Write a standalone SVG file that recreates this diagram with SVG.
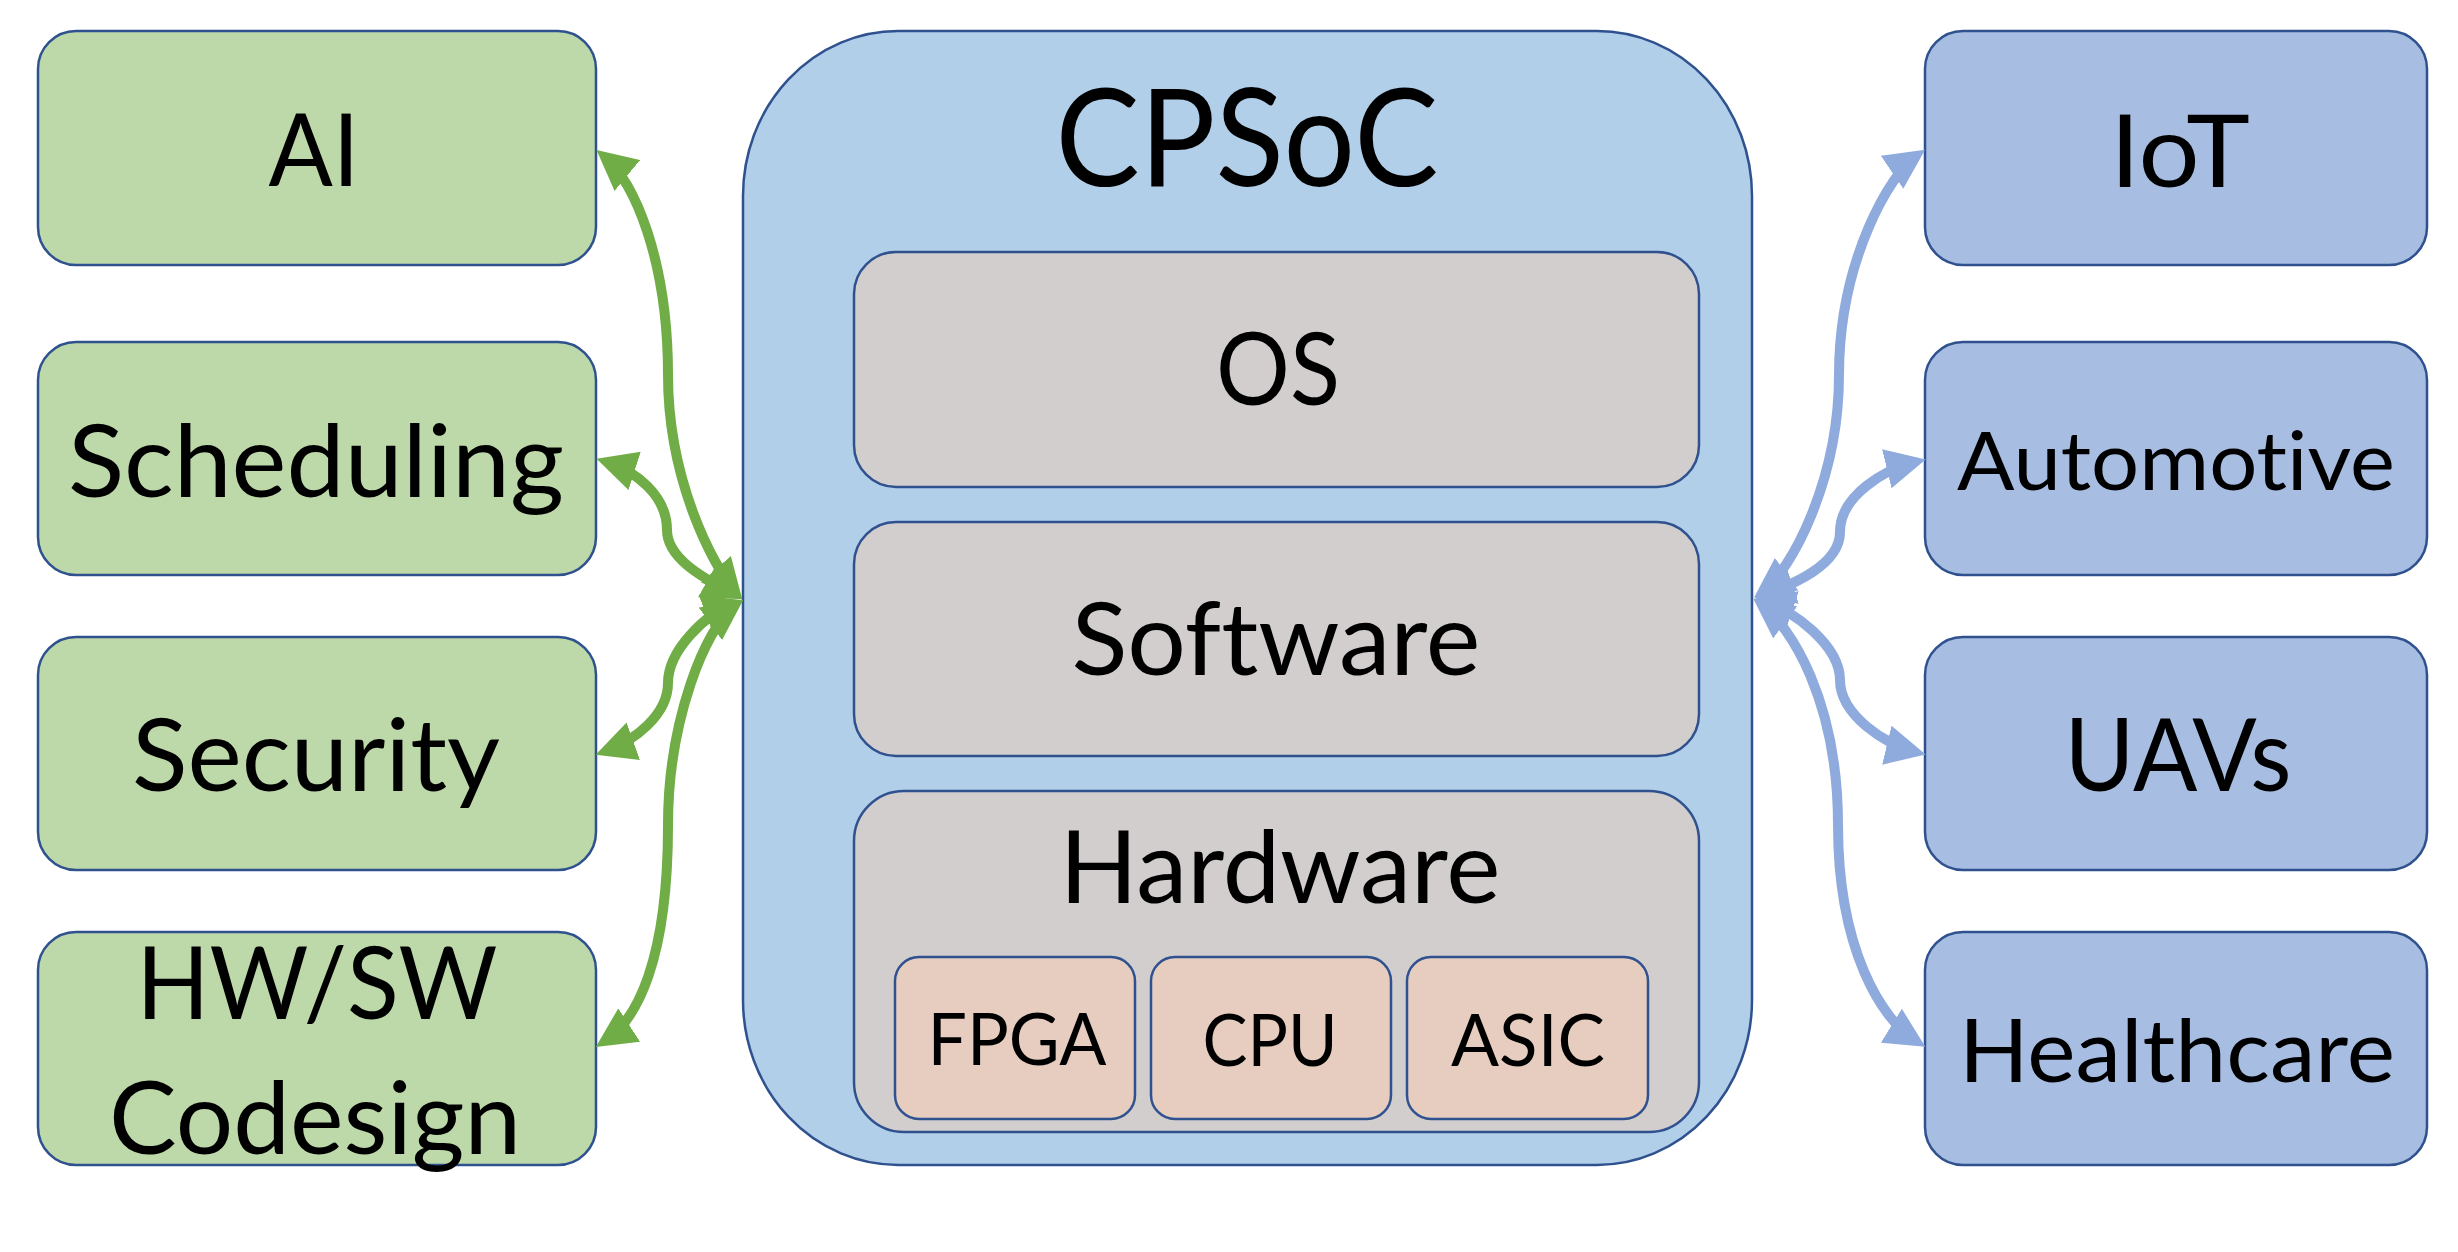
<svg xmlns="http://www.w3.org/2000/svg" width="2458" height="1252" viewBox="0 0 2458 1252">
  <style>
    .box { stroke: #2F528F; stroke-width: 2.5; }
    .green { fill: #BDD9A9; }
    .blue { fill: #A8BDE2; }
    .core { fill: #B2CFEA; }
    .layer { fill: #D3CECE; }
    .chip { fill: #E6CDC0; }
    text { font-family: Lato, "Open Sans", "Liberation Sans", sans-serif; fill: #000; text-anchor: middle; font-variant-ligatures: none; }
    .big { font-size: 100px; }
    .title { font-size: 135px; }
    .small { font-size: 72px; }
    .gline { fill: none; stroke: #70AD47; stroke-width: 10; }
    .bline { fill: none; stroke: #8FAADC; stroke-width: 10; }
  </style>
  <defs>
    <marker id="ag" markerUnits="userSpaceOnUse" viewBox="0 0 40 40" markerWidth="40" markerHeight="40" refX="29" refY="20" orient="auto-start-reverse">
      <path d="M0,0 L40,20 L0,40 z" fill="#70AD47"/>
    </marker>
    <marker id="ab" markerUnits="userSpaceOnUse" viewBox="0 0 40 40" markerWidth="40" markerHeight="40" refX="29" refY="20" orient="auto-start-reverse">
      <path d="M0,0 L40,20 L0,40 z" fill="#8FAADC"/>
    </marker>
  </defs>
  <rect width="2458" height="1252" fill="#FFFFFF"/>

  <g id="cpsoc">
    <rect class="box core" x="743" y="31" width="1009" height="1134" rx="155" ry="165"/>
    <text class="title" x="1247" y="186" textLength="383" lengthAdjust="spacingAndGlyphs">CPSoC</text>
  </g>
  <g id="os">
    <rect class="box layer" x="854" y="252" width="845" height="235" rx="42"/>
    <text class="big" x="1278" y="405" textLength="124" lengthAdjust="spacingAndGlyphs">OS</text>
  </g>
  <g id="software">
    <rect class="box layer" x="854" y="522" width="845" height="234" rx="42"/>
    <text class="big" x="1276" y="675" textLength="409" lengthAdjust="spacingAndGlyphs">Software</text>
  </g>
  <g id="hardware">
    <rect class="box layer" x="854" y="791" width="845" height="341" rx="50"/>
    <text class="big" x="1280" y="903" textLength="441" lengthAdjust="spacingAndGlyphs">Hardware</text>
  </g>
  <g id="fpga">
    <rect class="box chip" x="895" y="957" width="240" height="162" rx="24"/>
    <text class="small" x="1017" y="1065" textLength="179" lengthAdjust="spacingAndGlyphs">FPGA</text>
  </g>
  <g id="cpu">
    <rect class="box chip" x="1151" y="957" width="240" height="162" rx="24"/>
    <text class="small" x="1270" y="1066" textLength="135" lengthAdjust="spacingAndGlyphs">CPU</text>
  </g>
  <g id="asic">
    <rect class="box chip" x="1407" y="957" width="241" height="162" rx="24"/>
    <text class="small" x="1528" y="1066" textLength="154" lengthAdjust="spacingAndGlyphs">ASIC</text>
  </g>

  <g id="ai">
    <rect class="box green" x="38" y="31" width="558" height="234" rx="38"/>
    <text class="big" x="314" y="186" textLength="91" lengthAdjust="spacingAndGlyphs">AI</text>
  </g>
  <g id="scheduling">
    <rect class="box green" x="38" y="342" width="558" height="233" rx="38"/>
    <text class="big" x="316" y="497" textLength="496" lengthAdjust="spacingAndGlyphs">Scheduling</text>
  </g>
  <g id="security">
    <rect class="box green" x="38" y="637" width="558" height="233" rx="38"/>
    <text class="big" x="316" y="791" textLength="368" lengthAdjust="spacingAndGlyphs">Security</text>
  </g>
  <g id="hwsw">
    <rect class="box green" x="38" y="932" width="558" height="233" rx="38"/>
    <text class="big" x="317" y="1019" textLength="361" lengthAdjust="spacingAndGlyphs">HW/SW</text>
    <text class="big" x="315" y="1154" textLength="412" lengthAdjust="spacingAndGlyphs">Codesign</text>
  </g>

  <g id="iot">
    <rect class="box blue" x="1925" y="31" width="502" height="234" rx="38"/>
    <text class="big" x="2180" y="187" textLength="140" lengthAdjust="spacingAndGlyphs">IoT</text>
  </g>
  <g id="automotive">
    <rect class="box blue" x="1925" y="342" width="502" height="233" rx="38"/>
    <text x="2176" y="490" font-size="82" textLength="438" lengthAdjust="spacingAndGlyphs">Automotive</text>
  </g>
  <g id="uavs">
    <rect class="box blue" x="1925" y="637" width="502" height="233" rx="38"/>
    <text class="big" x="2178" y="791" textLength="227" lengthAdjust="spacingAndGlyphs">UAVs</text>
  </g>
  <g id="healthcare">
    <rect class="box blue" x="1925" y="932" width="502" height="233" rx="38"/>
    <text x="2177" y="1082" font-size="88" textLength="436" lengthAdjust="spacingAndGlyphs">Healthcare</text>
  </g>

  <g id="connectors">
    <path class="gline" marker-start="url(#ag)" marker-end="url(#ag)" d="M605,157 C634,181 668,260 668,375 C668,480 713,566 735,591"/>
    <path class="gline" marker-start="url(#ag)" marker-end="url(#ag)" d="M607,462 C635,471 667,495 667,530 C667,560 708,580 733,594"/>
    <path class="gline" marker-start="url(#ag)" marker-end="url(#ag)" d="M606,751 C634,741 668,715 668,683 C668,650 706,614 733,604"/>
    <path class="gline" marker-start="url(#ag)" marker-end="url(#ag)" d="M605,1041 C637,1020 668,960 668,825 C668,720 706,627 734,607"/>

    <path class="bline" marker-start="url(#ab)" marker-end="url(#ab)" d="M1916,156 C1891,173 1839,260 1839,375 C1839,480 1791,571 1763,591"/>
    <path class="bline" marker-start="url(#ab)" marker-end="url(#ab)" d="M1915,462 C1886,469 1840,495 1840,532 C1840,565 1792,585 1765,594"/>
    <path class="bline" marker-start="url(#ab)" marker-end="url(#ab)" d="M1915,752 C1886,745 1840,715 1840,680 C1840,645 1792,610 1765,601"/>
    <path class="bline" marker-start="url(#ab)" marker-end="url(#ab)" d="M1916,1041 C1882,1020 1838,950 1838,825 C1838,700 1790,626 1762,605"/>
  </g>
</svg>
